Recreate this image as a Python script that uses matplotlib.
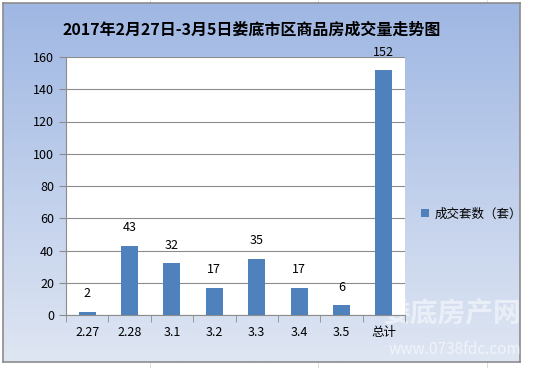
import numpy as np
import matplotlib.pyplot as plt
from matplotlib.colors import LinearSegmentedColormap

plt.rcParams['font.family'] = ['Noto Sans CJK SC', 'DejaVu Sans']

categories = ["2.27", "2.28", "3.1", "3.2", "3.3", "3.4", "3.5", "总计"]
values = [2, 43, 32, 17, 35, 17, 6, 152]
series_name = "成交套数（套）"
title = "2017年2月27日-3月5日娄底市区商品房成交量走势图"

W, H = 544, 368
fig = plt.figure(figsize=(W / 100, H / 100), dpi=100)
fig.patch.set_facecolor("white")

# faint sheet gridlines outside the chart (drawn under everything)
for gx in [150, 318, 487]:
    fig.add_artist(plt.Line2D([gx / W, gx / W], [0, 1], color="#d8d8d8",
                              lw=0.6, zorder=-5))

# chart area with vertical gradient
x0, y0, x1, y1 = 3, 3, 520, 362
bg = fig.add_axes([x0 / W, 1 - y1 / H, (x1 - x0) / W, (y1 - y0) / H])
cmap = LinearSegmentedColormap.from_list("bg", ["#9fb7e3", "#dfe6f3"])
bg.imshow(np.linspace(0, 1, 256).reshape(-1, 1), aspect="auto", cmap=cmap,
          extent=[0, 1, 0, 1])
bg.set_xticks([])
bg.set_yticks([])
for s in bg.spines.values():
    s.set_color("#8c8c8c")
    s.set_linewidth(1.2)

# watermark
bg.text(0.87, 0.135, "娄底房产网", transform=bg.transAxes, fontsize=20,
        color="white", alpha=0.5, ha="center", va="center", fontweight="bold")
bg.text(0.875, 0.035, "www.0738fdc.com", transform=bg.transAxes, fontsize=11,
        color="white", alpha=0.6, ha="center", va="center")

ax = fig.add_axes([66 / W, 1 - 315 / H, (405 - 66) / W, (315 - 57) / H])
ax.set_facecolor("white")
x = np.arange(len(categories))
bars = ax.bar(x, values, width=0.4, color="#4f81bd", zorder=3,
              label=series_name)
for xi, v in zip(x, values):
    ax.text(xi, v + 7, str(v), ha="center", va="bottom", fontsize=9,
            color="black", zorder=4)

ax.set_xlim(-0.5, len(categories) - 0.5)
ax.set_ylim(0, 160)
ax.set_yticks(range(0, 161, 20))
ax.yaxis.grid(True, color="#8c8c8c", lw=0.8, zorder=0)
ax.set_xticks(x)
ax.set_xticklabels(categories)
ax.set_xticks(np.arange(-0.5, len(categories)), minor=True)
ax.tick_params(axis="x", which="major", length=0, pad=8, labelsize=9)
ax.tick_params(axis="x", which="minor", length=5, color="#8c8c8c")
ax.tick_params(axis="y", length=5, color="#8c8c8c", labelsize=9)
for side in ["top", "right"]:
    ax.spines[side].set_visible(False)
for side in ["left", "bottom"]:
    ax.spines[side].set_color("#8c8c8c")

fig.text(252 / W, 1 - 30 / H, title, ha="center", va="center",
         fontsize=11.5, fontweight="bold")

fig.legend(handles=[bars], labels=[series_name], loc="center left",
           bbox_to_anchor=(410 / W, 1 - 214 / H), frameon=False,
           fontsize=9, handlelength=0.6, handleheight=0.6, handletextpad=0.5)

fig.savefig("out.png", dpi=100)
